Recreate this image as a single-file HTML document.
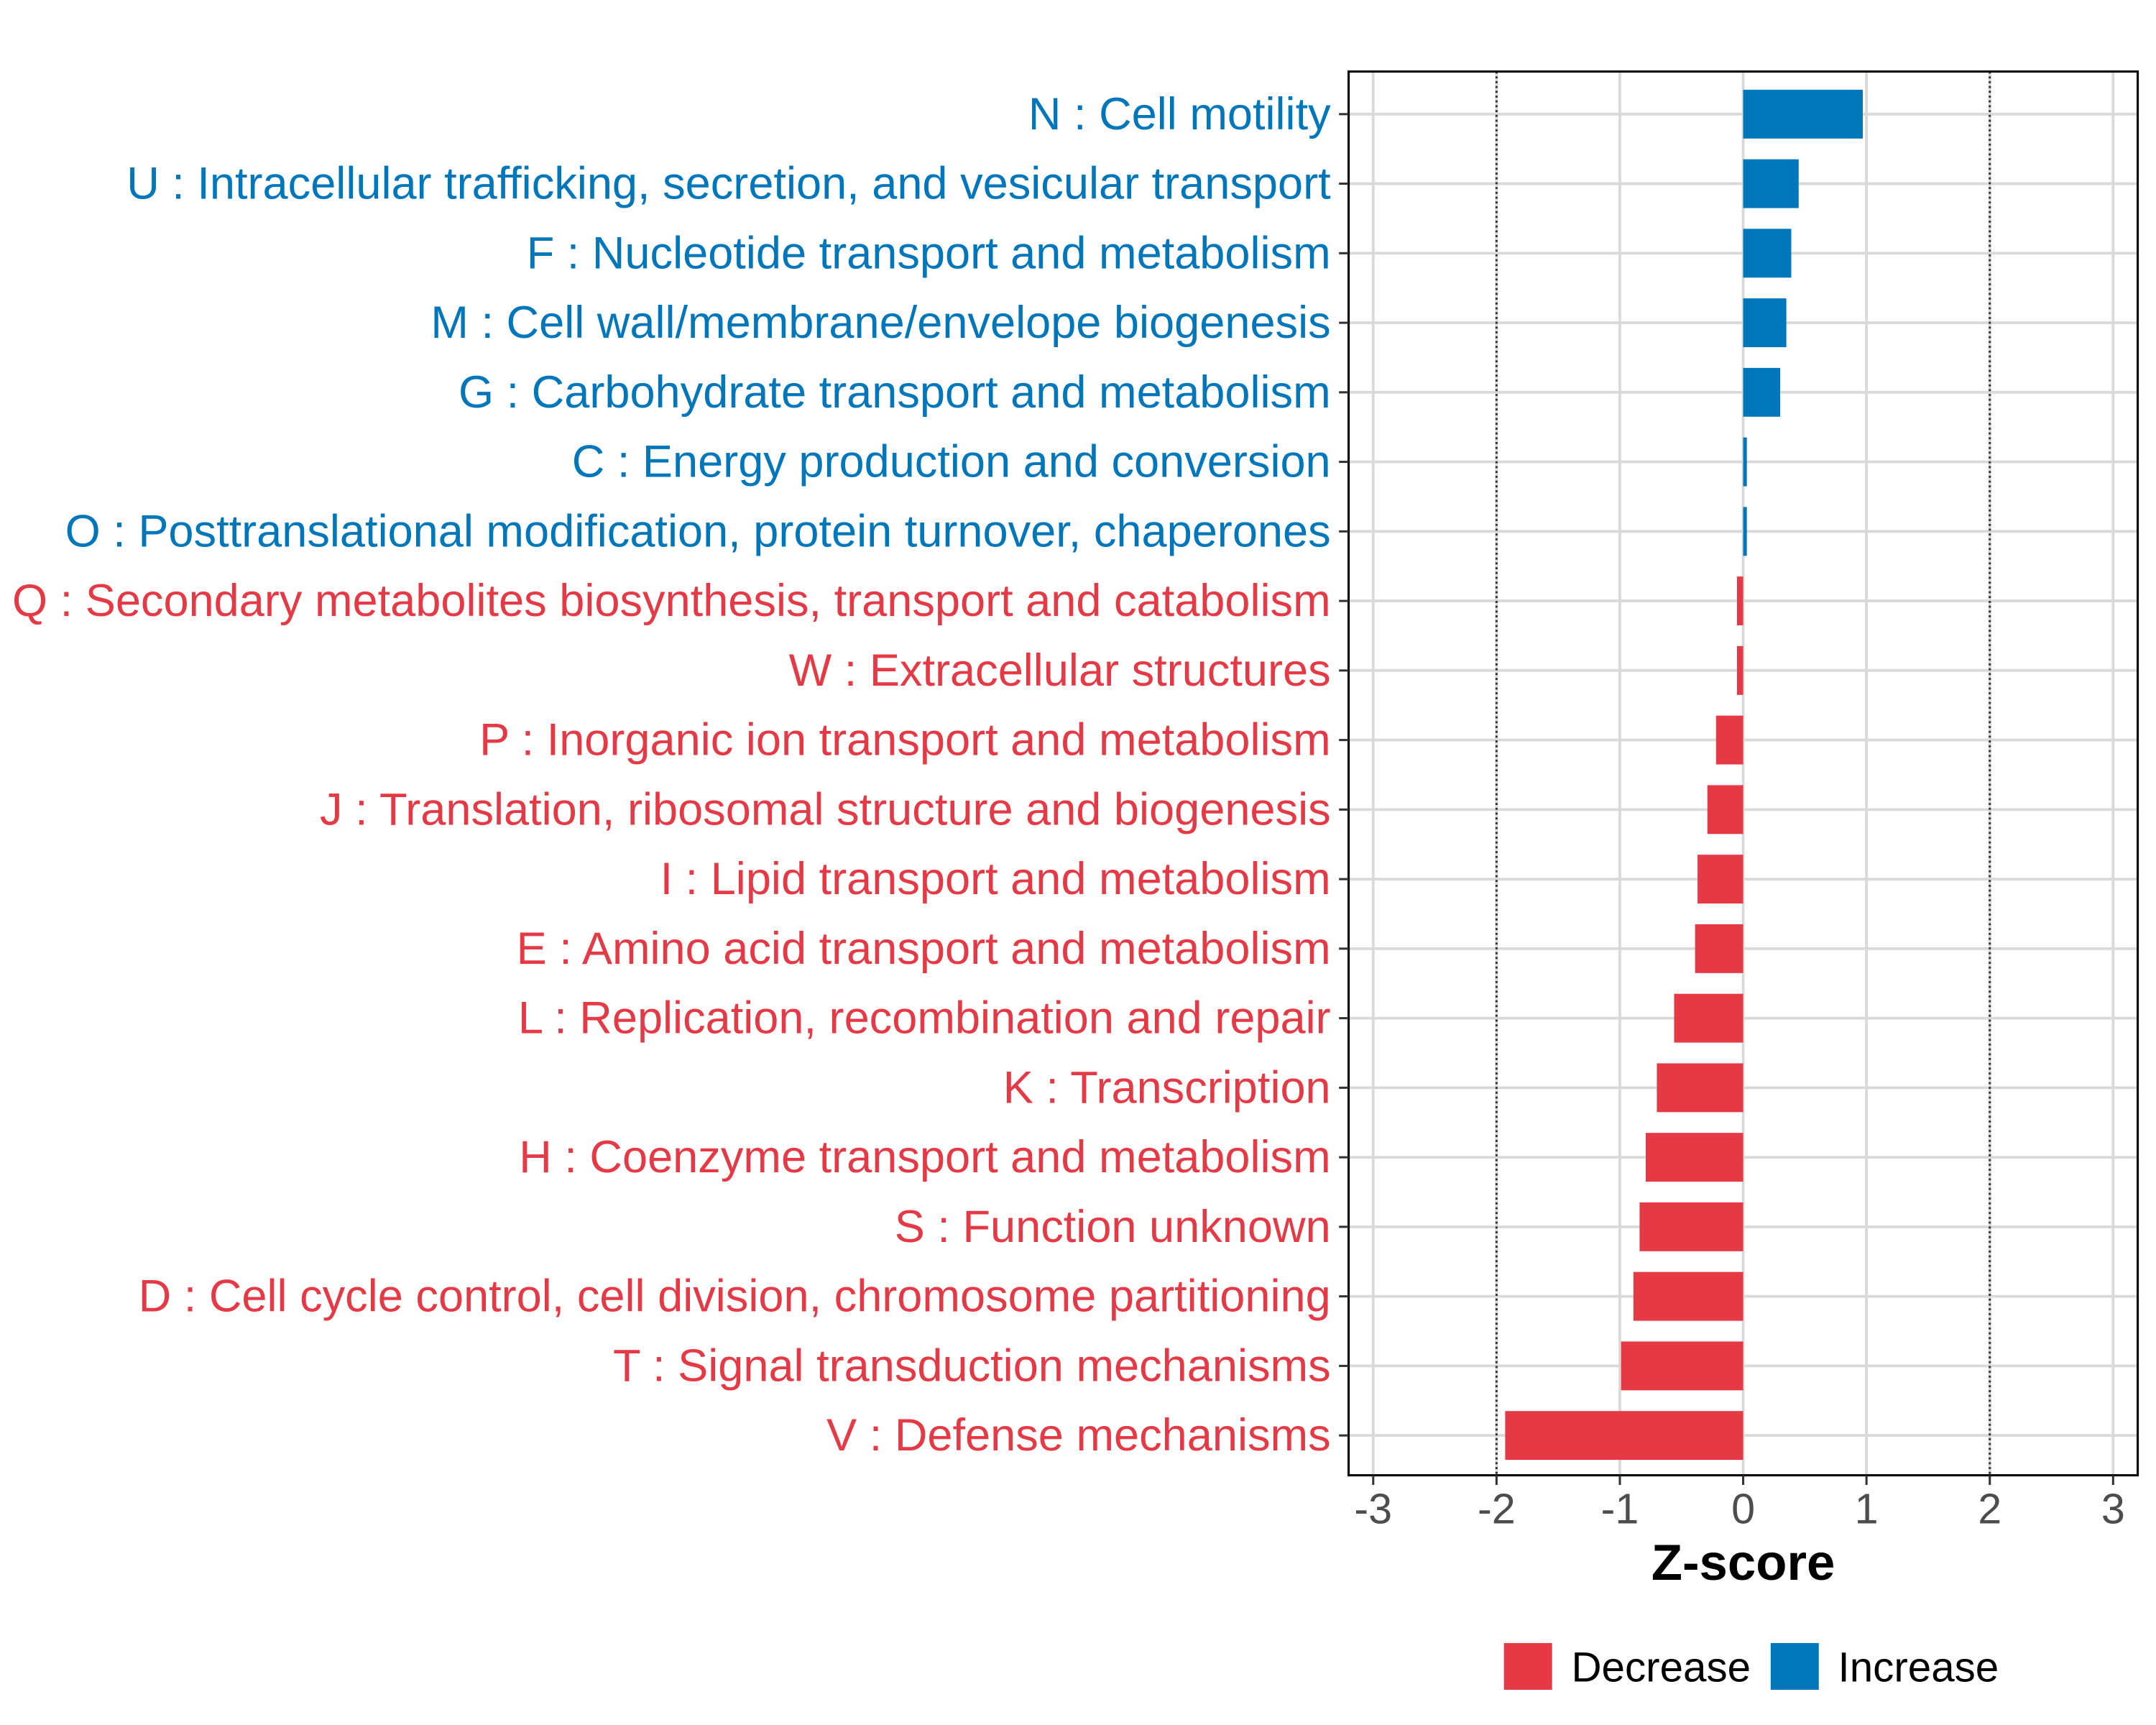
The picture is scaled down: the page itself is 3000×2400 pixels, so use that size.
<!DOCTYPE html>
<html><head><meta charset="utf-8"><style>html,body{margin:0;padding:0;background:#fff}svg{display:block}</style></head>
<body>
<svg id="chart" xmlns="http://www.w3.org/2000/svg" width="3000" height="2400" viewBox="0 0 1568.3 1254.6" font-family="Liberation Sans, sans-serif">
<rect width="1568.3" height="1254.6" fill="#fff"/>
<g id="grid"></g>
<g id="bars"></g>
<rect x="981" y="52" width="574" height="1021" fill="none" stroke="#000" stroke-width="1.6"/>
<g id="yaxis"></g>
<g id="xaxis"></g>
<text x="1268" y="1149" font-size="37" font-weight="bold" text-anchor="middle">Z-score</text>
<g>
<rect x="1094" y="1195" width="35" height="34" fill="#e63946"/>
<text x="1143" y="1223" font-size="30.5">Decrease</text>
<rect x="1288" y="1195" width="35" height="34" fill="#0077bb"/>
<text x="1337" y="1223" font-size="30.5">Increase</text>
</g>
</svg>
<script>
const categories = ["N : Cell motility","U : Intracellular trafficking, secretion, and vesicular transport","F : Nucleotide transport and metabolism","M : Cell wall/membrane/envelope biogenesis","G : Carbohydrate transport and metabolism","C : Energy production and conversion","O : Posttranslational modification, protein turnover, chaperones","Q : Secondary metabolites biosynthesis, transport and catabolism","W : Extracellular structures","P : Inorganic ion transport and metabolism","J : Translation, ribosomal structure and biogenesis","I : Lipid transport and metabolism","E : Amino acid transport and metabolism","L : Replication, recombination and repair","K : Transcription","H : Coenzyme transport and metabolism","S : Function unknown","D : Cell cycle control, cell division, chromosome partitioning","T : Signal transduction mechanisms","V : Defense mechanisms"];
const zscores = [0.97,0.45,0.39,0.35,0.30,0.03,0.03,-0.05,-0.05,-0.22,-0.29,-0.37,-0.39,-0.56,-0.70,-0.79,-0.84,-0.89,-0.99,-1.93];
const xTicks = [-3,-2,-1,0,1,2,3];
const thresholds = [-2,2];

const NS="http://www.w3.org/2000/svg";
const x = v => 1268 + v*89.7;
const y = i => 83 + i*50.58;
const bandH = 35.5;
function mk(tag, attrs, parent){const e=document.createElementNS(NS,tag);for(const k in attrs)e.setAttribute(k,attrs[k]);parent.appendChild(e);return e;}
const grid=document.getElementById('grid'),bars=document.getElementById('bars'),ya=document.getElementById('yaxis'),xa=document.getElementById('xaxis');
xTicks.forEach(t=>{
  const l=mk('line',{x1:x(t),x2:x(t),y1:52,y2:1073,stroke:'#d9d9d9','stroke-width':2},grid);
  
  
  const tk=mk('line',{x1:x(t),x2:x(t),y1:1073,y2:1080,stroke:'#333','stroke-width':1.6},xa);
  
  
  const tx=mk('text',{x:x(t),y:1108,'font-size':31,fill:'#4d4d4d','text-anchor':'middle'},xa);
  tx.textContent=String(t);
  
  
});
categories.forEach((c,i)=>{
  const l=mk('line',{x1:981,x2:1555,y1:y(i),y2:y(i),stroke:'#d9d9d9','stroke-width':2},grid);
  
  
});
thresholds.forEach(t=>{
  const l=mk('line',{x1:x(t),x2:x(t),y1:52,y2:1073,stroke:'#333','stroke-width':1.6,'stroke-dasharray':'1.5,2'},grid);
  
  
});
categories.forEach((c,i)=>{
  const v=zscores[i], col=v>=0?'#0077bb':'#e63946';
  const r=mk('rect',{x:Math.min(x(0),x(v)),y:y(i)-bandH/2,width:Math.abs(x(v)-x(0)),height:bandH,fill:col},bars);
  
  
  const tk=mk('line',{x1:974,x2:981,y1:y(i),y2:y(i),stroke:'#333','stroke-width':1.6},ya);
  
  
  const tx=mk('text',{x:968,y:y(i)+11,'font-size':33,fill:col,'text-anchor':'end'},ya);
  tx.textContent=c;
  
  
});
</script>
</body></html>
